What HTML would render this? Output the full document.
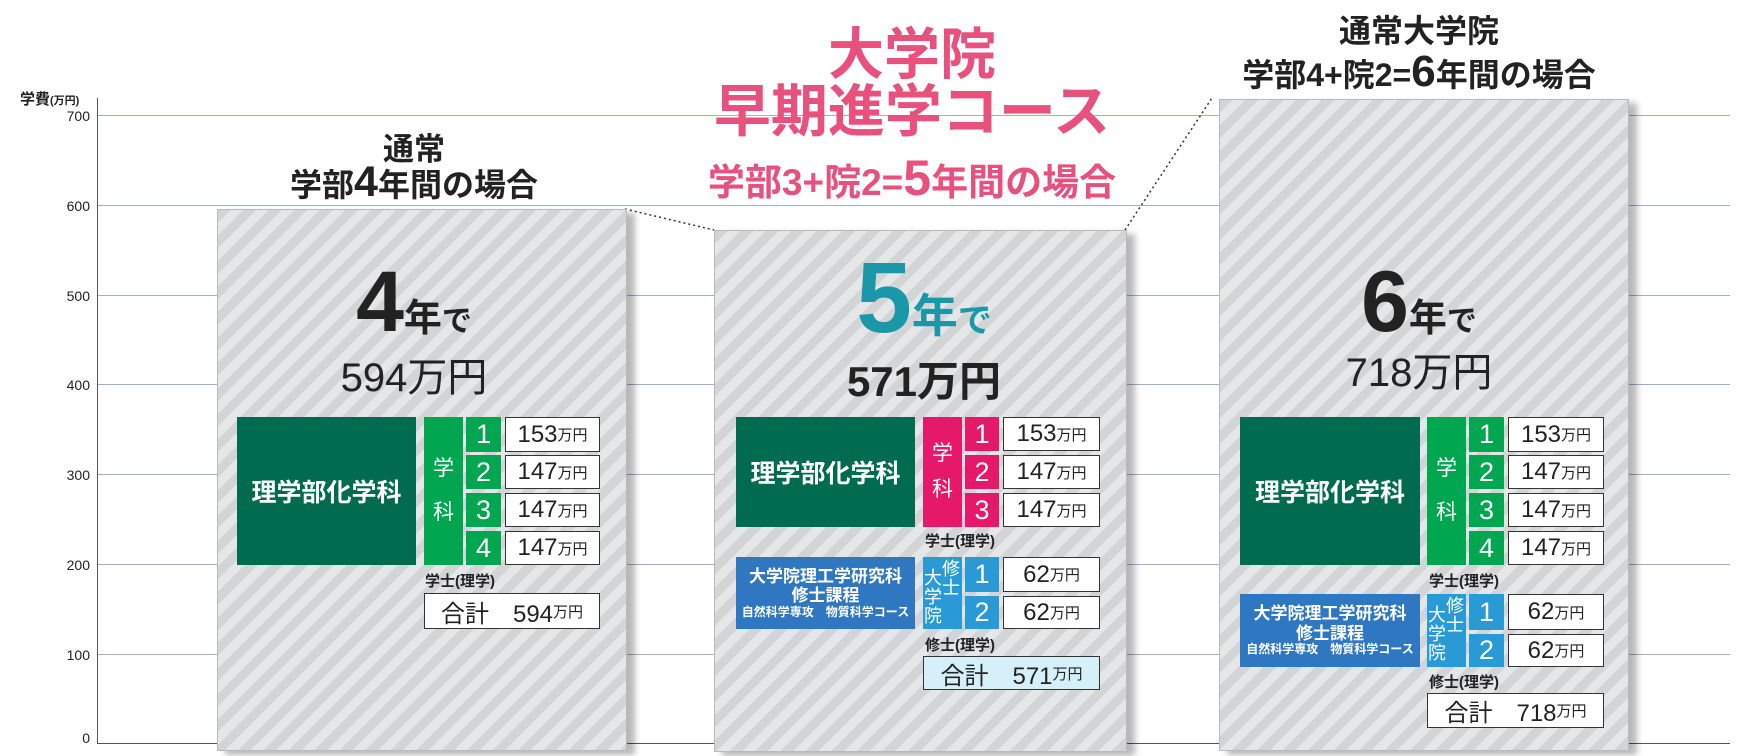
<!DOCTYPE html>
<html><head><meta charset="utf-8"><style>
body{margin:0;width:1740px;height:756px;background:#fff;position:relative;overflow:hidden;font-family:"Liberation Sans","Noto Sans CJK JP",sans-serif;color:#222}
.a{position:absolute}
.g{position:absolute;left:98px;width:1632px;height:1px;background:#9fb0c8}
.yl{position:absolute;width:60px;left:30px;text-align:right;font-size:14px;line-height:14px;color:#222}
.bar{position:absolute;background:repeating-linear-gradient(135deg,#d3d4d6 0 9px,#e5e6e8 9px 18px);border:1px solid #b8b9bb;box-shadow:8px 4px 6px rgba(0,0,0,.28)}
.c{position:absolute;display:flex;align-items:center;justify-content:center;text-align:center;box-sizing:border-box}
.dg{background:#006b4f;color:#fff;font-weight:bold;font-size:25px}
.n{color:#fff;font-size:27px;background:#00a650}
.v{background:#fff;border:1.5px solid #333;font-size:24px;color:#222}
.v small{font-size:15px}
.bl{background:#2f77c0;color:#fff;font-weight:bold;line-height:1.15}
.lb{background:#2a9ad6}
.pk{background:#e5186a}
.t{position:absolute;text-align:center;font-weight:bold;white-space:nowrap}
.lab{position:absolute;font-size:15px;font-weight:bold}
.vt{position:absolute;color:#fff;font-size:18px;line-height:19px;width:18px;text-align:center}
</style></head><body>
<div class="a" style="left:20px;top:88px;font-size:15px;font-weight:bold">学費<span style="font-size:11px">(万円)</span></div>
<div class="a" style="left:97px;top:98px;width:1px;height:646px;background:#555"></div>
<div class="a" style="left:97px;top:743px;width:1633px;height:1px;background:#555"></div>
<div class="g" style="top:115px"></div><div class="g" style="top:205px"></div><div class="g" style="top:295px"></div><div class="g" style="top:384px"></div><div class="g" style="top:474px"></div><div class="g" style="top:564px"></div><div class="g" style="top:654px"></div>
<div class="yl" style="top:109px">700</div><div class="yl" style="top:199px">600</div><div class="yl" style="top:289px">500</div><div class="yl" style="top:378px">400</div><div class="yl" style="top:468px">300</div><div class="yl" style="top:558px">200</div><div class="yl" style="top:648px">100</div><div class="yl" style="top:731px">0</div>

<svg class="a" style="left:0;top:0" width="1740" height="756"><line x1="625" y1="209" x2="714" y2="230" stroke="#333" stroke-width="1.5" stroke-dasharray="2,3"/><line x1="1125" y1="230" x2="1212" y2="98" stroke="#333" stroke-width="1.5" stroke-dasharray="2,3"/></svg>

<div class="bar" style="left:217px;top:209px;width:408px;height:540px"></div>
<div class="bar" style="left:714px;top:230px;width:411px;height:520px"></div>
<div class="bar" style="left:1219px;top:99px;width:408px;height:650px"></div>

<!-- titles -->
<div class="t" style="left:264px;width:300px;top:124px;font-size:31px">通常</div>
<div class="t" style="left:264px;width:300px;top:160px;font-size:32px">学部<span style="font-size:43px;line-height:30px">4</span>年間の場合</div>
<div class="t" style="left:662px;width:500px;top:24px;font-size:56px;color:#e8507e;line-height:62px">大学院</div>
<div class="t" style="left:612px;width:600px;top:80px;font-size:57px;color:#e8507e;line-height:64px">早期進学コース</div>
<div class="t" style="left:612px;width:600px;top:156px;font-size:37px;color:#e8507e;line-height:44px">学部3+院2=<span style="font-size:50px">5</span>年間の場合</div>
<div class="t" style="left:1269px;width:300px;top:6px;font-size:32px">通常大学院</div>
<div class="t" style="left:1169px;width:500px;top:50px;font-size:32px">学部4+院2=<span style="font-size:44px;line-height:30px">6</span>年間の場合</div>

<!-- big labels -->
<div class="t" style="left:264px;width:300px;top:262px;font-size:38px;line-height:80px"><span style="font-size:86px">4</span>年<span style="font-size:30px">で</span></div>
<div class="t" style="left:264px;width:300px;top:345px;font-size:40px;font-weight:normal">594万円</div>
<div class="t" style="left:764px;width:320px;top:248px;font-size:46px;line-height:100px;color:#1a98a8"><span style="font-size:100px">5</span>年<span style="font-size:34px">で</span></div>
<div class="t" style="left:764px;width:320px;top:348px;font-size:42px">571万円</div>
<div class="t" style="left:1269px;width:300px;top:262px;font-size:38px;line-height:80px"><span style="font-size:86px">6</span>年<span style="font-size:30px">で</span></div>
<div class="t" style="left:1269px;width:300px;top:340px;font-size:40px;font-weight:normal">718万円</div>

<!-- bar1 -->
<div class="c dg" style="left:237px;top:417px;width:179px;height:148px">理学部化学科</div>
<div class="c n" style="left:424px;top:417px;width:39px;height:148px;font-size:21px;line-height:44px;flex-direction:column">学<br>科</div>
<div class="c n" style="left:466px;top:417px;width:35px;height:35px">1</div><div class="c v" style="left:505px;top:417px;width:95px;height:35px">153<small>万円</small></div>
<div class="c n" style="left:466px;top:455px;width:35px;height:34px">2</div><div class="c v" style="left:505px;top:455px;width:95px;height:34px">147<small>万円</small></div>
<div class="c n" style="left:466px;top:493px;width:35px;height:34px">3</div><div class="c v" style="left:505px;top:493px;width:95px;height:34px">147<small>万円</small></div>
<div class="c n" style="left:466px;top:531px;width:35px;height:34px">4</div><div class="c v" style="left:505px;top:531px;width:95px;height:34px">147<small>万円</small></div>
<div class="lab" style="left:425px;top:570px">学士(理学)</div>
<div class="c v" style="left:424px;top:593px;width:176px;height:36px">合計　594<small>万円</small></div>

<!-- bar2 -->
<div class="c dg" style="left:736px;top:417px;width:179px;height:110px">理学部化学科</div>
<div class="c n pk" style="left:923px;top:417px;width:39px;height:110px;font-size:21px;line-height:36px;flex-direction:column">学<br>科</div>
<div class="c n pk" style="left:965px;top:417px;width:34px;height:34px">1</div><div class="c v" style="left:1003px;top:417px;width:97px;height:34px">153<small>万円</small></div>
<div class="c n pk" style="left:965px;top:455px;width:34px;height:34px">2</div><div class="c v" style="left:1003px;top:455px;width:97px;height:34px">147<small>万円</small></div>
<div class="c n pk" style="left:965px;top:493px;width:34px;height:34px">3</div><div class="c v" style="left:1003px;top:493px;width:97px;height:34px">147<small>万円</small></div>
<div class="lab" style="left:925px;top:530px">学士(理学)</div>
<div class="c bl" style="left:736px;top:557px;width:179px;height:72px;flex-direction:column;font-size:17px">大学院理工学研究科<br>修士課程<span style="font-size:12px">自然科学専攻　物質科学コース</span></div>
<div class="c n lb" style="left:923px;top:557px;width:39px;height:72px"></div>
<div class="vt" style="left:924px;top:569px">大<br>学<br>院</div><div class="vt" style="left:942px;top:560px">修<br>士</div>
<div class="c n lb" style="left:965px;top:557px;width:34px;height:35px">1</div><div class="c v" style="left:1003px;top:557px;width:97px;height:35px">62<small>万円</small></div>
<div class="c n lb" style="left:965px;top:596px;width:34px;height:33px">2</div><div class="c v" style="left:1003px;top:596px;width:97px;height:33px">62<small>万円</small></div>
<div class="lab" style="left:925px;top:634px">修士(理学)</div>
<div class="c v" style="left:923px;top:656px;width:177px;height:34px;background:#d6f0fa">合計　571<small>万円</small></div>

<!-- bar3 -->
<div class="c dg" style="left:1240px;top:417px;width:180px;height:148px">理学部化学科</div>
<div class="c n" style="left:1427px;top:417px;width:39px;height:148px;font-size:21px;line-height:44px;flex-direction:column">学<br>科</div>
<div class="c n" style="left:1469px;top:417px;width:35px;height:35px">1</div><div class="c v" style="left:1508px;top:417px;width:96px;height:35px">153<small>万円</small></div>
<div class="c n" style="left:1469px;top:455px;width:35px;height:34px">2</div><div class="c v" style="left:1508px;top:455px;width:96px;height:34px">147<small>万円</small></div>
<div class="c n" style="left:1469px;top:493px;width:35px;height:34px">3</div><div class="c v" style="left:1508px;top:493px;width:96px;height:34px">147<small>万円</small></div>
<div class="c n" style="left:1469px;top:531px;width:35px;height:34px">4</div><div class="c v" style="left:1508px;top:531px;width:96px;height:34px">147<small>万円</small></div>
<div class="lab" style="left:1429px;top:570px">学士(理学)</div>
<div class="c bl" style="left:1240px;top:594px;width:180px;height:73px;flex-direction:column;font-size:17px">大学院理工学研究科<br>修士課程<span style="font-size:12px">自然科学専攻　物質科学コース</span></div>
<div class="c n lb" style="left:1427px;top:594px;width:39px;height:73px"></div>
<div class="vt" style="left:1428px;top:606px">大<br>学<br>院</div><div class="vt" style="left:1446px;top:597px">修<br>士</div>
<div class="c n lb" style="left:1469px;top:594px;width:35px;height:36px">1</div><div class="c v" style="left:1508px;top:594px;width:96px;height:36px">62<small>万円</small></div>
<div class="c n lb" style="left:1469px;top:634px;width:35px;height:33px">2</div><div class="c v" style="left:1508px;top:634px;width:96px;height:33px">62<small>万円</small></div>
<div class="lab" style="left:1429px;top:671px">修士(理学)</div>
<div class="c v" style="left:1427px;top:693px;width:177px;height:35px">合計　718<small>万円</small></div>
</body></html>
